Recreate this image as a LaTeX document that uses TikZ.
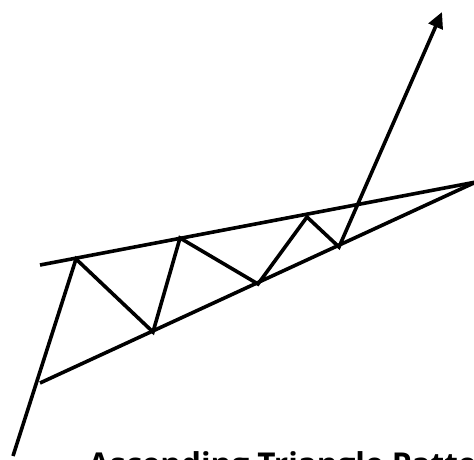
\documentclass[tikz,border=0pt]{standalone}
\usepackage{fontspec}
\setmainfont{Open Sans}
\usetikzlibrary{arrows.meta, positioning}

\begin{document}
\begin{tikzpicture}[x=1pt, y=-1pt]
\tikzstyle{trend} = [line width=3.6pt]
\tikzstyle{price} = [line width=3.6pt, -{Triangle[length=16pt, width=15pt]}]
\tikzstyle{caption} = [anchor=base west, inner sep=0pt, font=\bfseries\fontsize{31.5}{34}\selectfont]

\useasboundingbox (0,0) rectangle (474,460);
\clip (0,0) rectangle (474,460);

\coordinate (start) at (13,456);
\coordinate (top1) at (76,259);
\coordinate (low1) at (153,332);
\coordinate (top2) at (180,238);
\coordinate (low2) at (258,284);
\coordinate (top3) at (307,217);
\coordinate (low3) at (339,247);
\coordinate (target) at (442,12);

\coordinate (resleft) at (40,265);
\coordinate (supleft) at (40,383);
\coordinate (apex) at (476,182);

% resistance and rising support
\draw [trend] (resleft) -- (apex);
\draw [trend] (supleft) -- (apex);

% price path
\draw [price] (start) -- (top1) -- (low1) -- (top2) -- (low2) -- (top3) -- (low3) -- (target);

\node (title) [caption] at (88,475) {Ascending Triangle Pattern};
\end{tikzpicture}
\end{document}
